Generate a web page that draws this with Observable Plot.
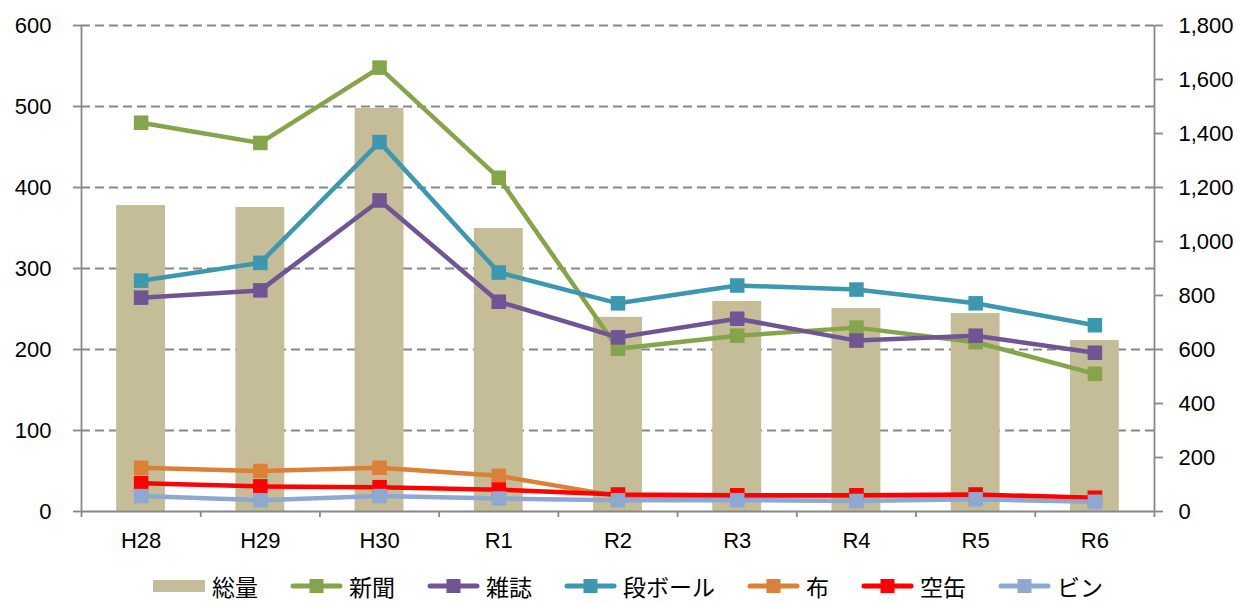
<!DOCTYPE html>
<html>
<head>
<meta charset="utf-8">
<script src="https://cdn.jsdelivr.net/npm/d3@7"></script>
<script src="https://cdn.jsdelivr.net/npm/@observablehq/plot@0.6"></script>
<style>
  html, body { margin: 0; padding: 0; background: #fff; }
  #wrap { position: relative; width: 1238px; height: 603px; }
  #legend { position: absolute; left: 153px; top: 569px; height: 33px;
    display: flex; justify-content: flex-start; align-items: center;
    font-family: "Noto Sans CJK JP", sans-serif; font-size: 23px; line-height: normal; color: #000; white-space: nowrap; }
  .item { display: flex; align-items: center; margin-right: 32px; }
  .item svg { margin-right: 6px; display: block; }
  .item span { display: block; }
</style>
</head>
<body>
<div id="wrap"><div id="chart"></div><div id="legend"></div></div>
<script>
const years = ["H28","H29","H30","R1","R2","R3","R4","R5","R6"];
const total = [1133,1126,1493,1048,719,778,752,733,633];
const shinbun = [480,455,548,412,201,217,227,209,170];
const zasshi = [264,273,384,259,215,238,211,217,196];
const danboru = [285,307,456,295,257,279,274,257,230];
const nuno = [54,50,54,44,19,19,19,19,16];
const akikan = [35,31,30,27,21,20,20,21,17];
const bin = [19,14,19,16,14,14,13,15,12];

const seriesNames = ["新聞","雑誌","段ボール","布","空缶","ビン"];
const seriesValues = [shinbun, zasshi, danboru, nuno, akikan, bin];
const seriesColors = ["#86A44A","#6F5593","#3D97AE","#DA8137","#FF0000","#8EA8D0"];
const barColor = "#C4BD97";
const totalName = "総量";

const bars = years.map((y, i) => ({i, year: y, total: total[i]}));
const series = seriesNames.map((name, k) => ({
  name, color: seriesColors[k],
  rows: years.map((y, i) => ({i, year: y, value: seriesValues[k][i]}))
}));

const gray = "#888888";
const marks = [
  Plot.gridY({ticks: d3.range(100, 601, 100), stroke: gray, strokeOpacity: 1, strokeWidth: 2.2, strokeDasharray: "9,5"}),
  Plot.rectY(bars, {x1: d => d.i - 0.205, x2: d => d.i + 0.205, y: d => d.total / 3, fill: barColor}),
  Plot.ruleX([-0.5, 8.5], {stroke: gray, strokeWidth: 1.8}),
  Plot.ruleY([0], {stroke: gray, strokeWidth: 1.8}),
  Plot.axisY({anchor: "left", ticks: d3.range(0, 601, 100), tickSize: 8, tickPadding: 22, stroke: gray, strokeWidth: 1.8, fill: "#000", label: null}),
  Plot.axisY({anchor: "right", ticks: d3.range(0, 1801, 200).map(v => v / 3), tickFormat: d => d3.format(",")(Math.round(d * 3)), tickSize: 8, tickPadding: 16, stroke: gray, strokeWidth: 1.8, fill: "#000", label: null}),
  Plot.axisX({ticks: d3.range(-0.5, 9, 1), tickFormat: () => "", tickSize: 6, stroke: gray, strokeWidth: 1.8, label: null}),
  Plot.axisX({ticks: d3.range(0, 9), tickFormat: i => years[i], tickSize: 0, tickPadding: 21, fill: "#000", label: null})
];
for (const s of series) {
  marks.push(Plot.line(s.rows, {x: "i", y: "value", stroke: s.color, strokeWidth: 4.5, strokeLinejoin: "round"}));
  marks.push(Plot.dot(s.rows, {x: "i", y: "value", symbol: "square", r: 8.2, fill: s.color, stroke: "none"}));
}

const chart = Plot.plot({
  width: 1238, height: 560,
  marginTop: 25, marginBottom: 49, marginLeft: 81, marginRight: 84,
  style: {fontFamily: "'Liberation Sans', Arial, sans-serif", fontSize: "22px", background: "#fff", overflow: "visible"},
  x: {domain: [-0.5, 8.5], axis: null},
  y: {domain: [0, 600], axis: null},
  marks
});
document.getElementById("chart").appendChild(chart);

// legend
const legend = document.getElementById("legend");
function addItem(name, color, isBar) {
  const div = document.createElement("div");
  div.className = "item";
  const ns = "http://www.w3.org/2000/svg";
  const svg = document.createElementNS(ns, "svg");
  svg.setAttribute("width", 53); svg.setAttribute("height", 20);
  if (isBar) {
    const r = document.createElementNS(ns, "rect");
    r.setAttribute("x", 0); r.setAttribute("y", 4); r.setAttribute("width", 52); r.setAttribute("height", 12); r.setAttribute("fill", color);
    svg.appendChild(r);
  } else {
    const l = document.createElementNS(ns, "line");
    l.setAttribute("x1", 3); l.setAttribute("x2", 50); l.setAttribute("y1", 10); l.setAttribute("y2", 10);
    l.setAttribute("stroke", color); l.setAttribute("stroke-width", 5); l.setAttribute("stroke-linecap", "round");
    svg.appendChild(l);
    const q = document.createElementNS(ns, "rect");
    q.setAttribute("x", 19.5); q.setAttribute("y", 3); q.setAttribute("width", 14); q.setAttribute("height", 14); q.setAttribute("fill", color);
    svg.appendChild(q);
  }
  div.appendChild(svg);
  const t = document.createElement("span");
  t.textContent = name;
  div.appendChild(t);
  legend.appendChild(div);
}
addItem(totalName, barColor, true);
series.forEach(s => addItem(s.name, s.color, false));
</script>
</body>
</html>
